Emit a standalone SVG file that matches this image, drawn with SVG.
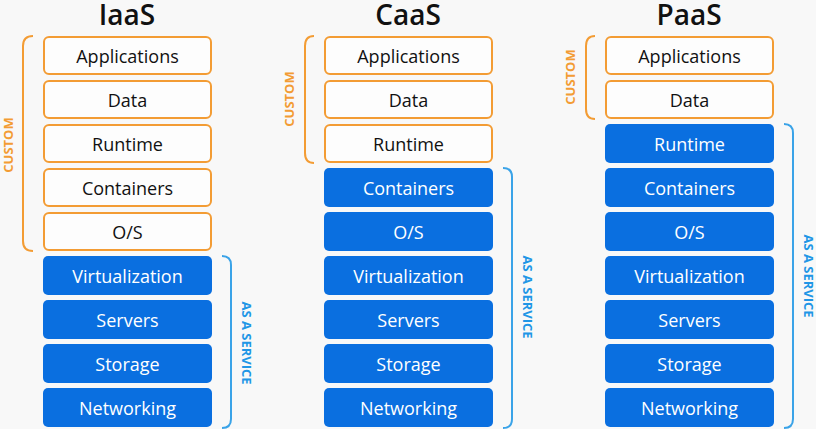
<svg xmlns="http://www.w3.org/2000/svg" width="816" height="429" viewBox="0 0 816 429">
<style>
.bg{fill:#f8f8f8}
.c{fill:#fdfdfd;stroke:#f39c34;stroke-width:2}
.s{fill:#0a6fe0}
.t{font-family:"Open Sans","DejaVu Sans",sans-serif;font-size:18px;text-anchor:middle}
.tc{fill:#111}
.ts{fill:#fff}
.h{font-family:"Open Sans","DejaVu Sans",sans-serif;font-size:28px;font-weight:600;text-anchor:middle;fill:#111}
.bc{fill:none;stroke:#f39c34;stroke-width:2}
.bs{fill:none;stroke:#3aa3e8;stroke-width:2}
.lc{font-family:"Open Sans","DejaVu Sans",sans-serif;font-size:13px;font-weight:700;text-anchor:middle;fill:#f39c34}
.ls{font-family:"Open Sans","DejaVu Sans",sans-serif;font-size:13px;font-weight:700;text-anchor:middle;fill:#2196e6}
</style>
<rect class="bg" x="0" y="0" width="816" height="429"/>

<text class="h" x="127" y="25">IaaS</text>
<text class="h" x="408" y="25">CaaS</text>
<text class="h" x="689" y="25">PaaS</text>

<g id="connectors">
<path class="bc" d="M33,36 Q23,36 23,46 V241 Q23,251 33,251"/>
<path class="bs" d="M222,256 Q231,256 231,265 V419 Q231,428 222,428"/>
<path class="bc" d="M314,36 Q305,36 305,46 V153 Q305,163 314,163"/>
<path class="bs" d="M503,168 Q512,168 512,177 V419 Q512,428 503,428"/>
<path class="bc" d="M595,36 Q586,36 586,46 V109 Q586,119 595,119"/>
<path class="bs" d="M784,124 Q793,124 793,133 V419 Q793,428 784,428"/>
</g>

<text class="lc" transform="translate(13,145) rotate(-90)">CUSTOM</text>
<text class="lc" transform="translate(294,99) rotate(-90)">CUSTOM</text>
<text class="lc" transform="translate(575,77) rotate(-90)">CUSTOM</text>
<text class="ls" transform="translate(242,343) rotate(90)">AS A SERVICE</text>
<text class="ls" transform="translate(523,297) rotate(90)">AS A SERVICE</text>
<text class="ls" transform="translate(804,276) rotate(90)">AS A SERVICE</text>

<g id="iaas">
<g id="iaas-applications"><rect class="c" x="44" y="37" width="167" height="37" rx="5"/><text class="t tc" x="127.5" y="63">Applications</text></g>
<g id="iaas-data"><rect class="c" x="44" y="81" width="167" height="37" rx="5"/><text class="t tc" x="127.5" y="107">Data</text></g>
<g id="iaas-runtime"><rect class="c" x="44" y="125" width="167" height="37" rx="5"/><text class="t tc" x="127.5" y="151">Runtime</text></g>
<g id="iaas-containers"><rect class="c" x="44" y="169" width="167" height="37" rx="5"/><text class="t tc" x="127.5" y="195">Containers</text></g>
<g id="iaas-os"><rect class="c" x="44" y="213" width="167" height="37" rx="5"/><text class="t tc" x="127.5" y="239">O/S</text></g>
<g id="iaas-virtualization"><rect class="s" x="43" y="256" width="169" height="39" rx="5"/><text class="t ts" x="127.5" y="283">Virtualization</text></g>
<g id="iaas-servers"><rect class="s" x="43" y="300" width="169" height="39" rx="5"/><text class="t ts" x="127.5" y="327">Servers</text></g>
<g id="iaas-storage"><rect class="s" x="43" y="344" width="169" height="39" rx="5"/><text class="t ts" x="127.5" y="371">Storage</text></g>
<g id="iaas-networking"><rect class="s" x="43" y="388" width="169" height="39" rx="5"/><text class="t ts" x="127.5" y="415">Networking</text></g>
</g>

<g id="caas">
<g id="caas-applications"><rect class="c" x="325" y="37" width="167" height="37" rx="5"/><text class="t tc" x="408.5" y="63">Applications</text></g>
<g id="caas-data"><rect class="c" x="325" y="81" width="167" height="37" rx="5"/><text class="t tc" x="408.5" y="107">Data</text></g>
<g id="caas-runtime"><rect class="c" x="325" y="125" width="167" height="37" rx="5"/><text class="t tc" x="408.5" y="151">Runtime</text></g>
<g id="caas-containers"><rect class="s" x="324" y="168" width="169" height="39" rx="5"/><text class="t ts" x="408.5" y="195">Containers</text></g>
<g id="caas-os"><rect class="s" x="324" y="212" width="169" height="39" rx="5"/><text class="t ts" x="408.5" y="239">O/S</text></g>
<g id="caas-virtualization"><rect class="s" x="324" y="256" width="169" height="39" rx="5"/><text class="t ts" x="408.5" y="283">Virtualization</text></g>
<g id="caas-servers"><rect class="s" x="324" y="300" width="169" height="39" rx="5"/><text class="t ts" x="408.5" y="327">Servers</text></g>
<g id="caas-storage"><rect class="s" x="324" y="344" width="169" height="39" rx="5"/><text class="t ts" x="408.5" y="371">Storage</text></g>
<g id="caas-networking"><rect class="s" x="324" y="388" width="169" height="39" rx="5"/><text class="t ts" x="408.5" y="415">Networking</text></g>
</g>

<g id="paas">
<g id="paas-applications"><rect class="c" x="606" y="37" width="167" height="37" rx="5"/><text class="t tc" x="689.5" y="63">Applications</text></g>
<g id="paas-data"><rect class="c" x="606" y="81" width="167" height="37" rx="5"/><text class="t tc" x="689.5" y="107">Data</text></g>
<g id="paas-runtime"><rect class="s" x="605" y="124" width="169" height="39" rx="5"/><text class="t ts" x="689.5" y="151">Runtime</text></g>
<g id="paas-containers"><rect class="s" x="605" y="168" width="169" height="39" rx="5"/><text class="t ts" x="689.5" y="195">Containers</text></g>
<g id="paas-os"><rect class="s" x="605" y="212" width="169" height="39" rx="5"/><text class="t ts" x="689.5" y="239">O/S</text></g>
<g id="paas-virtualization"><rect class="s" x="605" y="256" width="169" height="39" rx="5"/><text class="t ts" x="689.5" y="283">Virtualization</text></g>
<g id="paas-servers"><rect class="s" x="605" y="300" width="169" height="39" rx="5"/><text class="t ts" x="689.5" y="327">Servers</text></g>
<g id="paas-storage"><rect class="s" x="605" y="344" width="169" height="39" rx="5"/><text class="t ts" x="689.5" y="371">Storage</text></g>
<g id="paas-networking"><rect class="s" x="605" y="388" width="169" height="39" rx="5"/><text class="t ts" x="689.5" y="415">Networking</text></g>
</g>
</svg>
